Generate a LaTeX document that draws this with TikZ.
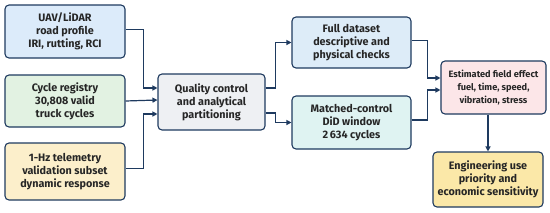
\documentclass[tikz,border=0pt]{standalone}
\usepackage{fontspec}
\setmainfont{Fira Sans}
\usetikzlibrary{positioning,arrows.meta,calc}
\definecolor{navyline}{HTML}{1E3A5F}
\definecolor{uavbg}{HTML}{DCEBFA}
\definecolor{cyclebg}{HTML}{E2F2E2}
\definecolor{telebg}{HTML}{FCEFCB}
\definecolor{qcbg}{HTML}{EEF0F3}
\definecolor{fullbg}{HTML}{DDECF8}
\definecolor{didbg}{HTML}{DFF3F2}
\definecolor{effectbg}{HTML}{FCE6E8}
\definecolor{engbg}{HTML}{FBE8A8}
\tikzset{
  box/.style={
    draw=navyline, rounded corners=4pt, align=center, inner sep=2pt,
    font=\fontsize{10.8}{13}\selectfont\bfseries, line width=1.1pt, text=black!85,
  },
  flow/.style={-{Triangle[length=5pt,width=5pt]}, draw=navyline, line width=1.2pt},
}
\begin{document}
\begin{tikzpicture}[x=1pt, y=-1pt]
\useasboundingbox (0,0) rectangle (550,212);

% ------------------------------------------------------------- inputs
\node[box, fill=uavbg,   minimum width=120pt, minimum height=53pt] (uav)   at (65,31.5)
  {UAV/LiDAR\\road profile\\IRI, rutting, RCI};
\node[box, fill=cyclebg, minimum width=120pt, minimum height=52pt] (cycle) at (65,101)
  {Cycle registry\\30,808 valid\\truck cycles};
\node[box, fill=telebg,  minimum width=120pt, minimum height=57pt] (tele)  at (65,171.5)
  {1-Hz telemetry\\validation subset\\dynamic response};

% ------------------------------------------------------------- partitioning
\node[box, fill=qcbg, minimum width=107pt, minimum height=56pt] (qc) at (211.5,102)
  {Quality control\\and analytical\\partitioning};

\node[box, fill=fullbg, minimum width=119pt, minimum height=51pt] (full) at (351.5,42.5)
  {Full dataset\\descriptive and\\physical checks};
\node[box, fill=didbg,  minimum width=119pt, minimum height=53pt] (did)  at (351.5,122.5)
  {Matched-control\\DiD window\\2\,634 cycles};

% ------------------------------------------------------------- outcome
\node[box, fill=effectbg, minimum width=105pt, minimum height=53pt,
  font=\fontsize{9.2}{13}\selectfont\bfseries] (effect) at (493.5,87.5)
  {Estimated field effect\\fuel, time, speed,\\vibration, stress};
\node[box, fill=engbg, minimum width=110pt, minimum height=55pt] (eng) at (488,179.5)
  {Engineering use\\priority and\\economic sensitivity};

% ------------------------------------------------------------- connectors
\draw[flow] ([yshift=2pt]uav.east) -- ++(18,0) |- ([yshift=14pt]qc.west);
\draw[flow] (cycle.east) -- ([yshift=2pt]qc.west);
\draw[flow] ([yshift=3pt]tele.east) -- ++(18,0) |- ([yshift=-12pt]qc.west);

\draw[flow] ([yshift=14pt]qc.east) -- ++(10,0) |- (full.west);
\draw[flow] ([yshift=-11pt]qc.east) -- ++(10,0) |- (did.west);

\draw[flow] ([yshift=2pt]full.east) -- ++(16,0) |- ([yshift=9.5pt]effect.west);
\draw[flow] ([yshift=2.5pt]did.east) -- ++(16,0) |- ([yshift=-2.5pt]effect.west);

\draw[flow] (eng.north |- effect.south) -- (eng.north);

\end{tikzpicture}
\end{document}
